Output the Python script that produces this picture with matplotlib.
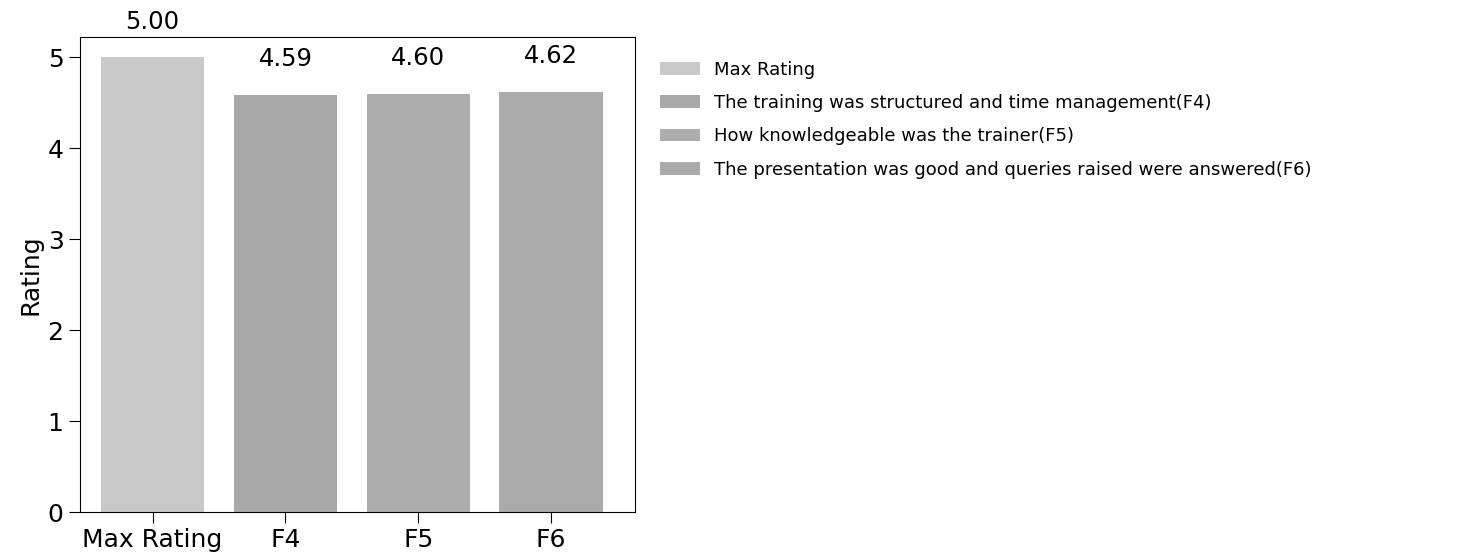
import matplotlib
matplotlib.use("Agg")
import matplotlib.pyplot as plt

categories = ["Max Rating", "F4", "F5", "F6"]
values = [5.00, 4.59, 4.60, 4.62]
legend_labels = [
    "Max Rating",
    "The training was structured and time management(F4)",
    "How knowledgeable was the trainer(F5)",
    "The presentation was good and queries raised were answered(F6)",
]
colors = ["#c9c9c9", "#a9a9a9", "#adadad", "#ababab"]

fig = plt.figure(figsize=(14.73, 5.56), dpi=100)
ax = fig.add_axes([0.054, 0.079, 0.377, 0.854])

bars = ax.bar(range(len(categories)), values, width=0.78, color=colors,
              label=legend_labels)
for i, v in enumerate(values):
    ax.annotate(f"{v:.2f}", (i, v), xytext=(0, 17), textcoords="offset points",
                ha="center", va="bottom", fontsize=17.5)

ax.set_xticks(range(len(categories)))
ax.set_xticklabels(categories)
ax.set_ylabel("Rating", fontsize=18)
ax.tick_params(labelsize=18, length=8)
ax.set_xlim(-0.55, 3.63)
ax.set_ylim(0, 5.22)
ax.set_yticks([0, 1, 2, 3, 4, 5])

handles = list(bars)
fig.legend(handles, legend_labels, loc="upper left", bbox_to_anchor=(0.437, 0.92),
           frameon=False, fontsize=13, handlelength=2.2, labelspacing=0.85)

fig.savefig("out.png", dpi=100)
